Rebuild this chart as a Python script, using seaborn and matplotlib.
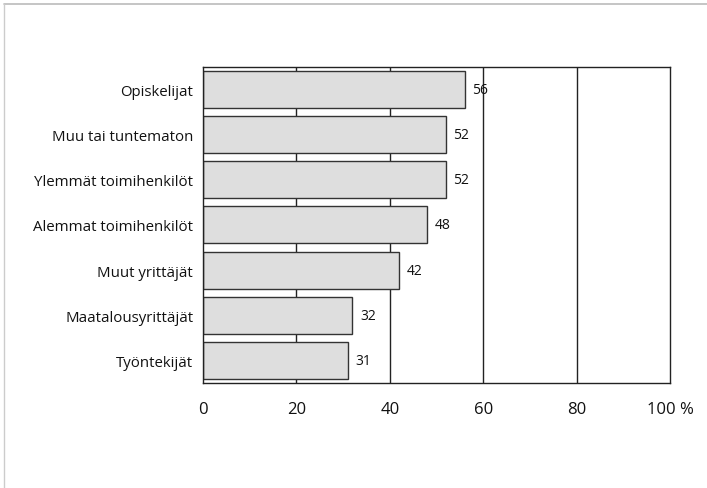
import matplotlib
matplotlib.use("Agg")
import matplotlib.pyplot as plt
import seaborn as sns
import pandas as pd

# data
groups = ["Opiskelijat", "Muu tai tuntematon", "Ylemmät toimihenkilöt",
          "Alemmat toimihenkilöt", "Muut yrittäjät", "Maatalousyrittäjät",
          "Työntekijät"]
shares = [56, 52, 52, 48, 42, 32, 31]
xticks = [0, 20, 40, 60, 80, 100]
xtick_labels = ["0", "20", "40", "60", "80", "100 %"]

df = pd.DataFrame({"group": groups, "share": shares})

sns.set_style("white")
plt.rcParams["font.family"] = ["Open Sans", "DejaVu Sans"]

fig = plt.figure(figsize=(7.07, 4.89), dpi=100)
ax = fig.add_axes([0.287, 0.215, 0.661, 0.646])

# vertical grid lines behind the bars
for t in xticks[1:-1]:
    ax.axvline(t, color="#222222", lw=1.0, zorder=0)

sns.barplot(data=df, x="share", y="group", orient="h", color="#dedede",
            edgecolor="#333333", linewidth=1.0, width=0.82, ax=ax, zorder=2)

for i, v in enumerate(shares):
    ax.text(v + 1.6, i, str(v), va="center", ha="left", fontsize=10,
            color="#111111", zorder=3)

ax.set_xlim(0, 100)
ax.set_ylim(len(groups) - 0.5, -0.5)
ax.set_xticks(xticks)
ax.set_xticklabels(xtick_labels, fontsize=12, color="#111111")
ax.tick_params(axis="x", length=0, pad=13)
ax.tick_params(axis="y", length=0, pad=7, labelsize=10.8, labelcolor="#111111")
ax.set_xlabel("")
ax.set_ylabel("")
for s in ax.spines.values():
    s.set_color("#222222")
    s.set_linewidth(1.0)

# light page frame (top and left edges)
fig.add_artist(plt.Line2D([0.006, 1.0], [0.99, 0.99], color="#bbbbbb", lw=1.2))
fig.add_artist(plt.Line2D([0.006, 0.006], [0.0, 0.99], color="#cccccc", lw=1.0))

fig.savefig("out.png", dpi=100)
